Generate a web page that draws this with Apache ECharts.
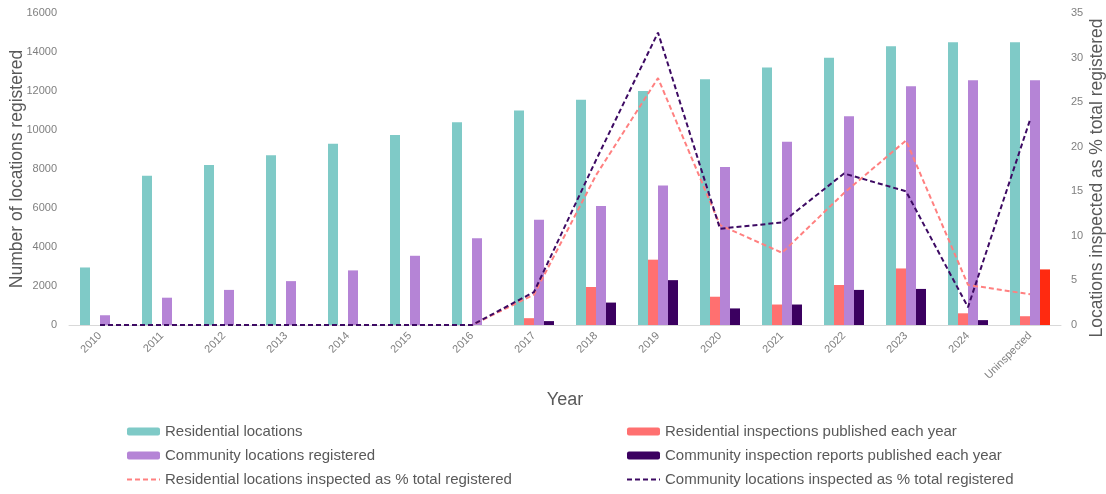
<!DOCTYPE html>
<html><head><meta charset="utf-8">
<script src="https://cdn.jsdelivr.net/npm/echarts@6/dist/echarts.min.js"></script>
<style>html,body{margin:0;padding:0;background:#fff}#c{width:1106px;height:494px}</style>
</head><body><div id="c"></div>
<script>
const categories = ['2010','2011','2012','2013','2014','2015','2016','2017','2018','2019','2020','2021','2022','2023','2024','Uninspected'];
const residentialLocations = [2950,7650,8200,8700,9300,9750,10400,11000,11550,12000,12600,13200,13700,14300,14500,14500];
const residentialInspections = [0,0,0,0,0,0,0,350,1950,3350,1450,1050,2050,2900,600,450];
const communityLocations = [500,1400,1800,2250,2800,3550,4450,5400,6100,7150,8100,9400,10700,12250,12550,12550];
const communityInspections = [0,0,0,0,0,0,0,200,1150,2300,850,1050,1800,1850,250,2850];
const residentialPct = [0,0,0,0,0,0,0,3.4,16.8,27.7,11.2,8.1,14.8,20.7,4.5,3.45];
const communityPct = [0,0,0,0,0,0,0,3.7,18.5,32.8,10.8,11.5,17.0,15.0,2.0,23.0];
const leftTicks = {min:0,max:16000,interval:2000};
const rightTicks = {min:0,max:35,interval:5};

const names = ['Residential locations','Residential inspections published each year','Community locations registered','Community inspection reports published each year','Residential locations inspected as % total registered','Community locations inspected as % total registered'];
const font = 'Liberation Sans, Arial, sans-serif';
const chart = echarts.init(document.getElementById('c'));
const commData = communityInspections.map((v,i)=> i===categories.length-1 ? {value:v,itemStyle:{color:'#FF2A10'}} : v);
const legendCommon = {orient:'vertical', padding:0, itemWidth:33, itemHeight:8, itemGap:9, itemTextGap:2, textStyle:{color:'#595959',fontSize:15,fontFamily:font}};
const lineLegend = n => ({name:n, itemStyle:{opacity:0}});
chart.setOption({
  animation:false,
  textStyle:{fontFamily:font},
  grid:{left:69,right:45,top:13,bottom:169,outerBoundsMode:'none',containLabel:false},
  legend:[
    Object.assign({left:126, top:424, data:[names[0],names[2],lineLegend(names[4])]}, legendCommon),
    Object.assign({left:626, top:424, data:[names[1],names[3],lineLegend(names[5])]}, legendCommon)
  ],
  xAxis:{type:'category',data:categories,name:'Year',nameLocation:'middle',nameGap:66,nameMoveOverlap:false,
    nameTextStyle:{color:'#595959',fontSize:18},
    axisLine:{lineStyle:{color:'#D9D9D9',width:1}},axisTick:{show:false},
    axisLabel:{rotate:45,color:'#7F7F7F',fontSize:11,interval:0,margin:9}},
  yAxis:[
    {type:'value',min:leftTicks.min,max:leftTicks.max,interval:leftTicks.interval,name:'Number of locations registered',nameLocation:'middle',nameGap:43,nameMoveOverlap:false,
     nameTextStyle:{color:'#595959',fontSize:17.5},splitLine:{show:false},axisLine:{show:false},axisTick:{show:false},
     axisLabel:{color:'#7F7F7F',fontSize:11,margin:12,formatter:v=>String(v)}},
    {type:'value',min:rightTicks.min,max:rightTicks.max,interval:rightTicks.interval,name:'Locations inspected as % total registered',nameLocation:'middle',nameGap:27,nameMoveOverlap:false,
     nameTextStyle:{color:'#595959',fontSize:17.5,padding:[0,18,0,0]},splitLine:{show:false},axisLine:{show:false},axisTick:{show:false},
     axisLabel:{color:'#7F7F7F',fontSize:11,margin:10}}
  ],
  series:[
    {name:names[0],type:'bar',data:residentialLocations,barWidth:10,barGap:'0%',itemStyle:{color:'#7FCAC7'}},
    {name:names[1],type:'bar',data:residentialInspections,barWidth:10,barGap:'0%',itemStyle:{color:'#FF7070'}},
    {name:names[2],type:'bar',data:communityLocations,barWidth:10,barGap:'0%',itemStyle:{color:'#B584D6'}},
    {name:names[3],type:'bar',data:commData,barWidth:10,barGap:'0%',itemStyle:{color:'#3B0060'}},
    {name:names[4],type:'line',yAxisIndex:1,data:residentialPct,symbol:'none',z:5,itemStyle:{color:'#FF8080'},lineStyle:{color:'#FF8080',width:2,type:[5,3]}},
    {name:names[5],type:'line',yAxisIndex:1,data:communityPct,symbol:'none',z:6,itemStyle:{color:'#3D0A63'},lineStyle:{color:'#3D0A63',width:2,type:[5,3]}}
  ]
});
</script></body></html>
